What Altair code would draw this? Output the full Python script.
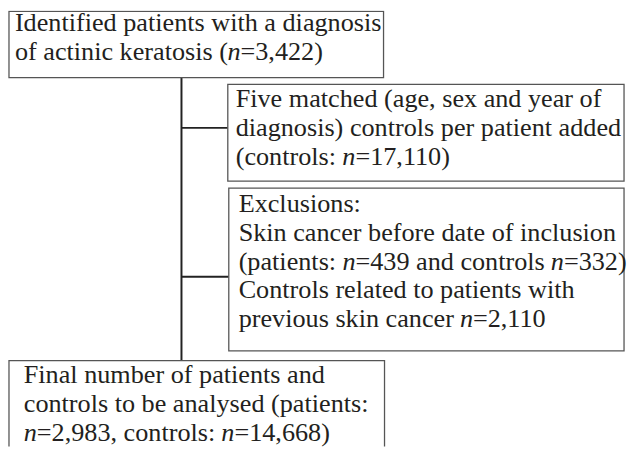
import altair as alt
import pandas as pd

# ---- text content (italic "n" marked with *...*) ----
box1_lines = ["Identified patients with a diagnosis",
              "of actinic keratosis (*n*=3,422)"]
box2_lines = ["Five matched (age, sex and year of",
              "diagnosis) controls per patient added",
              "(controls: *n*=17,110)"]
box3_lines = ["Exclusions:",
              "Skin cancer before date of inclusion",
              "(patients: *n*=439 and controls *n*=332)",
              "Controls related to patients with",
              "previous skin cancer *n*=2,110"]
box4_lines = ["Final number of patients and",
              "controls to be analysed (patients:",
              "*n*=2,983, controls: *n*=14,668)"]

# ---- layout (pixel coordinates of the 635x458 picture) ----
FONT = "Liberation Serif"
FONT_SIZE = 26.5
LINE_GAP = 29.3
layout = [
    dict(lines=box1_lines, x=9, x2=389, y=9, y2=76, tx=15, ty=21),
    dict(lines=box2_lines, x=231, x2=633, y=83, y2=181, tx=239, ty=98),
    dict(lines=box3_lines, x=232, x2=633, y=188, y2=353, tx=242, ty=204),
    dict(lines=box4_lines, x=9, x2=390, y=363, y2=480, tx=24, ty=378),
]
connectors = [
    dict(x=184, x2=184, y=76, y2=363),
    dict(x=184, x2=231, y=127, y2=127),
    dict(x=184, x2=232, y=278, y2=278),
]

# Times advance widths (per 1000 em) to place italic segments
W = {' ': 250, '(': 333, ')': 333, ',': 250, ':': 278, '=': 564, '.': 250,
     'C': 667, 'E': 611, 'F': 556, 'I': 333, 'S': 556,
     'a': 444, 'b': 500, 'c': 444, 'd': 500, 'e': 444, 'f': 333, 'g': 500,
     'h': 500, 'i': 278, 'j': 278, 'k': 500, 'l': 278, 'm': 778, 'n': 500,
     'o': 500, 'p': 500, 'q': 500, 'r': 333, 's': 389, 't': 278, 'u': 500,
     'v': 500, 'w': 722, 'x': 500, 'y': 500, 'z': 444}
for d in "0123456789":
    W[d] = 500


def seg_width(s):
    return sum(W.get(c, 500) for c in s) * FONT_SIZE / 1000.0


rows = []
for b in layout:
    for i, line in enumerate(b["lines"]):
        parts = line.split("*")
        cx = b["tx"]
        for j, p in enumerate(parts):
            if p:
                rows.append(dict(x=cx, y=b["ty"] + i * LINE_GAP, t=p,
                                 italic=(j % 2 == 1)))
            cx += seg_width(p)
text_df = pd.DataFrame(rows)
box_df = pd.DataFrame([{k: b[k] for k in ("x", "x2", "y", "y2")} for b in layout])
con_df = pd.DataFrame(connectors)

xs = alt.Scale(domain=[8, 634], nice=False, zero=False)
ys = alt.Scale(domain=[8, 450], nice=False, zero=False, reverse=True)

boxes = alt.Chart(box_df).mark_rect(fill="white", stroke="#555555",
                                    strokeWidth=1.3, clip=True).encode(
    x=alt.X("x:Q", scale=xs, axis=None), x2="x2:Q",
    y=alt.Y("y:Q", scale=ys, axis=None), y2="y2:Q")

lines = alt.Chart(con_df).mark_rule(color="#222222", strokeWidth=2).encode(
    x=alt.X("x:Q", scale=xs, axis=None), x2="x2:Q",
    y=alt.Y("y:Q", scale=ys, axis=None), y2="y2:Q")

reg = alt.Chart(text_df).transform_filter("!datum.italic").mark_text(
    font=FONT, fontSize=FONT_SIZE, align="left", baseline="middle",
    color="#231f20").encode(
    x=alt.X("x:Q", scale=xs, axis=None), y=alt.Y("y:Q", scale=ys, axis=None),
    text="t:N")

ita = alt.Chart(text_df).transform_filter("datum.italic").mark_text(
    font=FONT, fontSize=FONT_SIZE, fontStyle="italic", align="left",
    baseline="middle", color="#231f20").encode(
    x=alt.X("x:Q", scale=xs, axis=None), y=alt.Y("y:Q", scale=ys, axis=None),
    text="t:N")

chart = alt.layer(lines, boxes, reg, ita).properties(
    width=626, height=442, padding=0, background="white",
    autosize=alt.AutoSizeParams(type="fit", contains="padding")
).configure_view(stroke=None)

chart.save("out.html", embed_options={"renderer": "svg", "actions": False})
